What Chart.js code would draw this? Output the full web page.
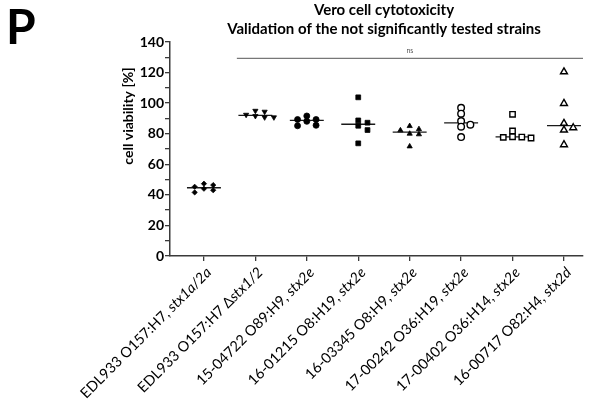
<!DOCTYPE html>
<html>
<head>
<meta charset="utf-8">
<script src="https://cdn.jsdelivr.net/npm/chart.js@4.4.1/dist/chart.umd.min.js"></script>
<style>
  html, body { margin: 0; padding: 0; background: #fff; }
  #wrap { width: 589px; height: 403px; position: relative; }
</style>
</head>
<body>
<div id="wrap"><canvas id="chart"></canvas></div>
<script>
// strain names and their toxin genes (gene part is set in italics)
const strains = [
    'EDL933 O157:H7, ', 'EDL933 O157:H7 Δ', '15-04722 O89:H9, ', '16-01215 O8:H19, ',
    '16-03345 O8:H9, ', '17-00242 O36:H19, ', '17-00402 O36:H14, ', '16-00717 O82:H4, '
];
const toxins = ['stx1a/2a', 'stx1/2', 'stx2e', 'stx2e', 'stx2e', 'stx2e', 'stx2e', 'stx2d'];

// cell viability [%], six replicates per strain
const viabilityEDL933 = [45.3, 41.6, 47.3, 44.0, 46.4, 43.0];
const viabilityDeltaStx = [94.4, 90.7, 92.4, 95.0, 90.7, 91.6];
const viability1504722 = [89.3, 85.2, 91.6, 88.1, 89.3, 85.5];
const viability1601215 = [103.8, 88.7, 85.2, 87.2, 82.4, 73.7];
const viability1603345 = [82.2, 85.0, 79.6, 83.0, 80.0, 71.7];
const viability1700242 = [97.0, 93.1, 85.9, 88.3, 84.6, 77.8];
const viability1700402 = [92.7, 81.8, 77.2, 77.8, 77.6, 78.0];
const viability1600717 = [120.5, 99.8, 86.8, 83.9, 82.4, 72.8];

const yTicks = [0, 20, 40, 60, 80, 100, 120, 140];

// significance bar over strains 2-8
const nsFrom = 1.64, nsTo = 8.37, nsLevel = 129.3, nsText = 'ns';

const groups = [viabilityEDL933, viabilityDeltaStx, viability1504722, viability1601215,
    viability1603345, viability1700242, viability1700402, viability1600717];

// marker per group
const markers = [
    { style: 'rectRot', r: 2.6, fill: '#000', rot: 0 },
    { style: 'triangle', r: 3, fill: '#000', rot: 180 },
    { style: 'circle', r: 3, fill: '#000', rot: 0 },
    { style: 'rect', r: 3.4, fill: '#000', rot: 0 },
    { style: 'triangle', r: 3, fill: '#000', rot: 0 },
    { style: 'circle', r: 3.3, fill: '#fff', rot: 0 },
    { style: 'rect', r: 3.8, fill: '#fff', rot: 0 },
    { style: 'triangle', r: 4, fill: '#fff', rot: 0 }
];

const FONT = 'Lato, "Open Sans", sans-serif';
const AXIS = '#3a3a3a';

function median(arr) {
    const s = arr.slice().sort((a, b) => a - b);
    const m = Math.floor(s.length / 2);
    return s.length % 2 ? s[m] : (s[m - 1] + s[m]) / 2;
}

// simple column-swarm: points closer than `gap` in value share a row and get pushed sideways
function swarmColumns(values, gap) {
    const placed = [];
    const cols = new Array(values.length);
    const order = values.map((v, i) => i).sort((a, b) => values[b] - values[a]);
    order.forEach(i => {
        for (let k = 0; ; k++) {
            const col = k === 0 ? 0 : (k % 2 ? (k + 1) / 2 : -k / 2);
            const hit = placed.some(p => p.col === col && Math.abs(p.v - values[i]) < gap);
            if (!hit) {
                placed.push({ v: values[i], col });
                cols[i] = col;
                break;
            }
        }
    });
    return cols;
}

const datasets = [];
groups.forEach((vals, g) => {
    const cols = swarmColumns(vals, 3.2);
    const m = markers[g];
    datasets.push({
        type: 'scatter',
        data: vals.map((v, i) => ({ x: g + 1 + cols[i] * 0.18, y: v })),
        pointStyle: m.style,
        pointRadius: m.r,
        pointRotation: m.rot,
        pointBackgroundColor: m.fill,
        pointBorderColor: '#000',
        pointBorderWidth: m.fill === '#fff' ? 1.4 : 0.8,
        clip: false,
        order: 1
    });
    const med = median(vals);
    datasets.push({
        type: 'line',
        data: [{ x: g + 1 - 0.33, y: med }, { x: g + 1 + 0.33, y: med }],
        borderColor: '#1a1a1a',
        borderWidth: 1.3,
        pointRadius: 0,
        clip: false,
        order: 2
    });
});

datasets.push({
    type: 'line',
    data: [{ x: nsFrom, y: nsLevel }, { x: nsTo, y: nsLevel }],
    borderColor: '#777',
    borderWidth: 1.2,
    pointRadius: 0,
    clip: false,
    order: 3
});

// panel letter, titles, y title, "ns" and the mixed-style category labels
const textPlugin = {
    id: 'texts',
    afterDraw(chart) {
        const ctx = chart.ctx;
        const xs = chart.scales.x, ys = chart.scales.y;
        const area = chart.chartArea;
        ctx.save();
        ctx.fillStyle = '#000';

        ctx.font = 'bold 48px ' + FONT;
        ctx.textAlign = 'left';
        ctx.textBaseline = 'top';
        ctx.fillText('P', 6, 5);

        ctx.font = 'bold 15px ' + FONT;
        ctx.textAlign = 'center';
        ctx.textBaseline = 'middle';
        ctx.fillText('Vero cell cytotoxicity', 384, 10);
        ctx.fillText('Validation of the not significantly tested strains', 384, 29);

        ctx.font = 'bold 14px ' + FONT;
        ctx.save();
        ctx.translate(128, 116);
        ctx.rotate(-Math.PI / 2);
        ctx.fillText('cell viability [%]', 0, 0);
        ctx.restore();

        ctx.font = '7px ' + FONT;
        ctx.fillStyle = '#555';
        ctx.fillText(nsText, xs.getPixelForValue((nsFrom + nsTo) / 2), ys.getPixelForValue(nsLevel) - 8);

        ctx.fillStyle = '#000';
        ctx.textAlign = 'right';
        strains.forEach((name, i) => {
            const px = xs.getPixelForValue(i + 1);
            ctx.save();
            ctx.translate(px + 5, area.bottom + 14);
            ctx.rotate(-Math.PI / 4);
            ctx.font = 'italic 14.5px ' + FONT;
            ctx.fillText(toxins[i], 0, 0);
            const w = ctx.measureText(toxins[i]).width;
            ctx.font = '14.5px ' + FONT;
            ctx.fillText(name, -w, 0);
            ctx.restore();
        });
        ctx.restore();
    }
};

new Chart(document.getElementById('chart'), {
    type: 'scatter',
    data: { datasets },
    options: {
        responsive: true,
        maintainAspectRatio: false,
        animation: false,
        devicePixelRatio: 1,
        layout: { padding: { top: 42, right: 6, bottom: 0, left: 0 } },
        plugins: { legend: { display: false }, tooltip: { enabled: false }, title: { display: false } },
        scales: {
            x: {
                type: 'linear',
                min: 0.34,
                max: 8.37,
                afterBuildTicks: s => { s.ticks = strains.map((n, i) => ({ value: i + 1 })); },
                afterFit: s => { s.height = 147; },
                ticks: { display: false },
                grid: { drawOnChartArea: false, drawTicks: true, tickLength: 5, color: AXIS, lineWidth: 1.3 },
                border: { display: true, color: AXIS, width: 1.5 }
            },
            y: {
                min: 0,
                max: 140,
                afterBuildTicks: s => {
                    const t = [];
                    yTicks.forEach((v, i) => {
                        t.push({ value: v });
                        if (i < yTicks.length - 1) t.push({ value: (v + yTicks[i + 1]) / 2 });
                    });
                    s.ticks = t;
                },
                afterFit: s => { s.width = 170; },
                ticks: {
                    color: '#000',
                    font: { family: FONT, size: 14, weight: 'bold' },
                    padding: 1,
                    autoSkip: false,
                    callback: v => (yTicks.includes(v) ? v : '')
                },
                grid: { drawOnChartArea: false, drawTicks: true, tickLength: 5, color: AXIS, lineWidth: 1.3 },
                border: { display: true, color: AXIS, width: 1.5 }
            }
        }
    },
    plugins: [textPlugin]
});
</script>
</body>
</html>
